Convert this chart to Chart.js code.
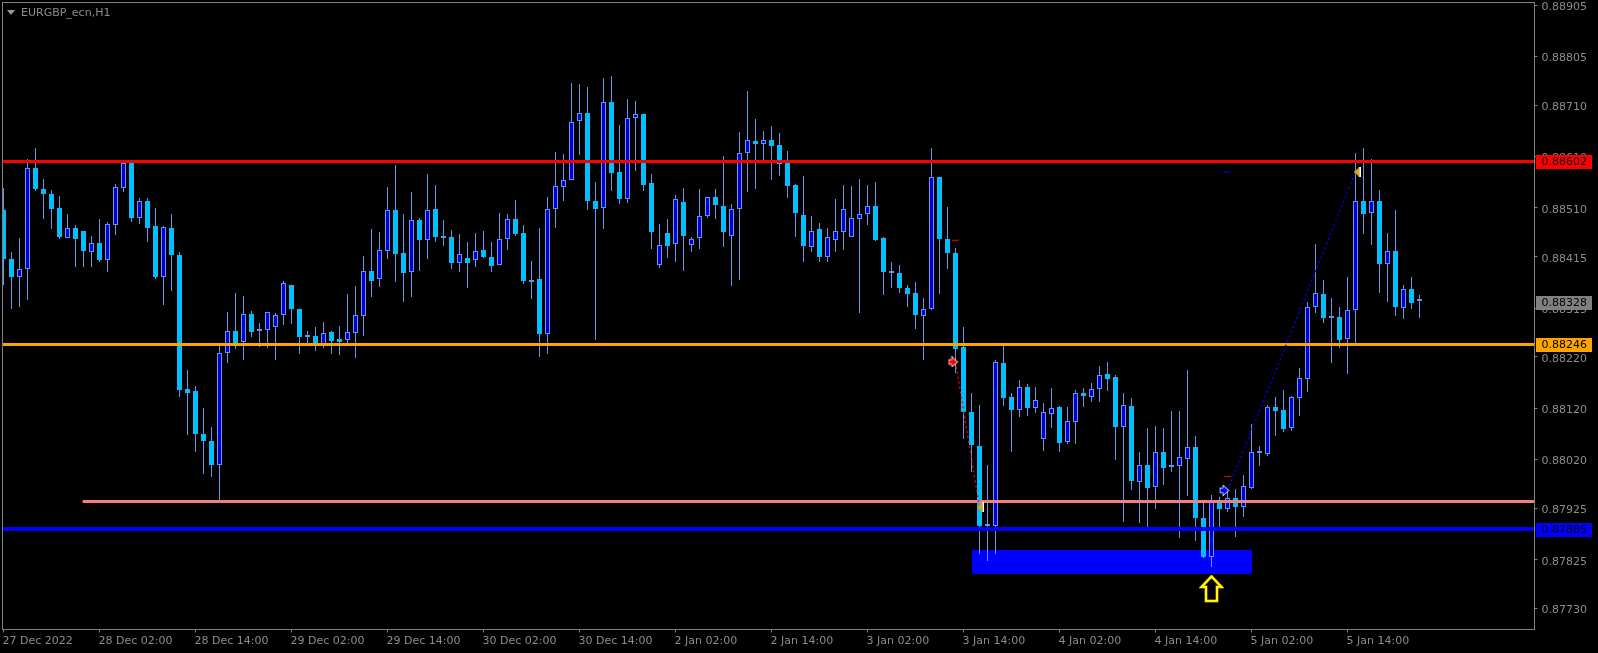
<!DOCTYPE html>
<html>
<head>
<meta charset="utf-8">
<title>EURGBP_ecn,H1</title>
<script src="https://cdn.jsdelivr.net/npm/chart.js@4/dist/chart.umd.min.js"></script>
<style>
  html, body { margin: 0; padding: 0; background: #000; overflow: hidden; }
  canvas { display: block; }
</style>
</head>
<body>
<canvas id="chart" width="1598" height="653"></canvas>
<script>
// all prices are in points (1 = 0.00001)
const highs = [
  88548,88424,88451,88606,88626,88566,88544,88533,88499,88476,
  88466,88455,88488,88482,88556,88602,88601,88529,88529,88509,
  88474,88498,88425,88194,88164,88120,88083,88241,88307,88344,
  88338,88310,88285,88308,88305,88367,88359,88314,88270,88278,
  88288,88271,88280,88343,88358,88416,88469,88464,88551,88593,
  88499,88541,88490,88576,88554,88486,88467,88459,88443,88461,
  88465,88443,88501,88498,88525,88477,88406,88471,88531,88618,
  88615,88753,88751,88745,88560,88763,88767,88671,88722,88718,
  88692,88576,88479,88488,88535,88549,88453,88546,88532,88546,
  88611,88517,88658,88737,88683,88660,88669,88656,88621,88556,
  88572,88494,88480,88470,88527,88554,88552,88566,88554,88560,
  88454,88404,88399,88360,88366,88334,88626,88571,88512,88432,
  88278,88149,88127,88010,88214,88241,88149,88175,88168,88162,
  88130,88159,88125,88122,88155,88160,88170,88202,88209,88184,
  88149,88139,88034,88081,88085,88081,88114,88114,88194,88066,
  87936,87951,87948,87962,87962,87990,88089,88046,88127,88142,
  88155,88144,88199,88326,88439,88370,88334,88317,88375,88617,
  88626,88606,88545,88462,88505,88359,88375,88340
];
const lows = [
  88360,88313,88318,88331,88543,88489,88468,88450,88452,88395,
  88394,88394,88405,88386,88458,88540,88483,88479,88444,88372,
  88320,88349,88142,88068,88035,87992,87986,87939,88207,88236,
  88214,88259,88240,88238,88214,88282,88284,88226,88245,88232,
  88238,88226,88224,88243,88218,88261,88337,88356,88411,88366,
  88327,88337,88388,88411,88444,88436,88392,88386,88354,88395,
  88413,88386,88398,88428,88456,88362,88333,88220,88226,88471,
  88524,88564,88613,88506,88253,88469,88543,88518,88520,88582,
  88543,88430,88393,88413,88405,88388,88425,88430,88491,88489,
  88434,88358,88370,88541,88547,88600,88565,88573,88530,88454,
  88405,88425,88405,88405,88425,88429,88454,88306,88477,88446,
  88341,88354,88345,88317,88275,88214,88312,88343,88392,88189,
  88060,87996,87836,87823,87836,88125,88035,88103,88105,88111,
  88037,88082,88035,88051,88051,88123,88133,88133,88154,88020,
  87899,87961,87897,87889,87924,87971,87996,87868,87949,87862,
  87829,87811,87886,87918,87869,87909,87963,88008,88027,88066,
  88073,88076,88105,88152,88306,88286,88207,88238,88187,88244,
  88459,88438,88345,88327,88300,88294,88314,88296
];
const opens = [
  88506,88410,88376,88392,88587,88546,88538,88509,88452,88470,
  88466,88425,88441,88409,88477,88549,88597,88491,88523,88474,
  88376,88470,88418,88157,88153,88069,88057,88010,88227,88270,
  88248,88303,88271,88273,88279,88302,88359,88314,88262,88260,
  88243,88268,88254,88253,88267,88300,88388,88371,88427,88505,
  88423,88386,88486,88448,88507,88455,88454,88403,88412,88408,
  88429,88415,88398,88449,88488,88462,88369,88371,88264,88507,
  88551,88564,88680,88694,88523,88509,88717,88579,88527,88686,
  88692,88558,88398,88462,88439,88521,88437,88451,88495,88532,
  88513,88456,88507,88617,88641,88634,88643,88632,88597,88554,
  88497,88434,88468,88415,88448,88464,88454,88489,88499,88513,
  88451,88386,88384,88355,88345,88300,88314,88571,88449,88423,
  88239,88112,88047,87893,87891,88207,88141,88117,88162,88121,
  88060,88109,88123,88055,88094,88149,88142,88158,88186,88180,
  88084,88125,87977,88009,87967,88034,88007,88008,88021,88044,
  87907,87831,87938,87924,87946,87928,87965,88035,88031,88122,
  88116,88082,88140,88177,88318,88342,88297,88297,88255,88312,
  88523,88501,88523,88401,88427,88316,88353,88330
];
const closes = [
  88411,88376,88392,88587,88547,88538,88508,88454,88470,88450,
  88427,88441,88409,88478,88550,88597,88491,88523,88471,88376,
  88472,88419,88156,88150,88070,88057,88010,88227,88270,88246,
  88303,88269,88275,88308,88301,88363,88314,88259,88258,88243,
  88266,88251,88249,88268,88301,88388,88368,88429,88505,88421,
  88384,88486,88448,88505,88454,88452,88403,88421,88403,88427,
  88415,88397,88449,88488,88460,88368,88366,88265,88507,88553,
  88564,88678,88694,88524,88508,88717,88578,88528,88686,88692,
  88555,88464,88437,88436,88528,88456,88449,88495,88532,88516,
  88464,88507,88616,88643,88635,88643,88631,88596,88553,88501,
  88436,88466,88415,88454,88466,88507,88490,88499,88513,88447,
  88386,88384,88354,88343,88302,88314,88571,88450,88423,88236,
  88113,88048,87891,87890,88209,88140,88117,88162,88121,88135,
  88112,88121,88053,88096,88149,88144,88158,88184,88177,88084,
  88127,87979,88009,87965,88034,88004,88005,88024,88044,87907,
  87831,87938,87924,87946,87928,87968,88034,88033,88122,88115,
  88080,88141,88178,88318,88344,88296,88296,88253,88312,88523,
  88499,88523,88401,88427,88318,88353,88325,88328
];

const timeLabels = [
  '27 Dec 2022', '28 Dec 02:00', '28 Dec 14:00', '29 Dec 02:00', '29 Dec 14:00',
  '30 Dec 02:00', '30 Dec 14:00', '2 Jan 02:00', '2 Jan 14:00', '3 Jan 02:00',
  '3 Jan 14:00', '4 Jan 02:00', '4 Jan 14:00', '5 Jan 02:00', '5 Jan 14:00'
];
const barsPerLabel = 12;
const priceTicks = [88905, 88805, 88710, 88610, 88510, 88415, 88315, 88220, 88120, 88020, 87925, 87825, 87730];

// horizontal levels
const redLevel = 88602;
const orangeLevel = 88246;
const pinkLevel = 87940;
const blueLevel = 87885;
const pinkStartBar = 9.9;

// blue zone under the candles
const zoneBars = [121, 156];
const zonePrices = [87844, 87798];

// trades: [bar, price]
const sellLine = [[119, 88210], [122, 87927]];
const buyLine = [[153, 87960], [169, 88580]];
const stopMarks = [[119, 88447], [153, 87987]];
const targetMarks = [[153, 88580]];
const sellEntry = [[118.7, 88210]];
const buyEntry = [[152.6, 87960]];
const exits = [[122.1, 87927], [169.2, 88580]];
const upArrow = [[151, 87768]];

const WICK = '#6495ED';
const BULL = '#0000DD';
const BEAR = '#00BFFF';
const TEXT = '#8c8c8c';
const FONT = '11px "DejaVu Sans"';

const toPoints = list => list.map(p => ({ x: p[0], y: p[1] }));
const formatPrice = p => (p / 100000).toFixed(5);
const isDoji = i => Math.abs(opens[i] - closes[i]) <= 4;

function bodyColor(i) {
  if (isDoji(i)) return WICK;
  return closes[i] > opens[i] ? BULL : BEAR;
}

function makeIcon(w, h, draw) {
  const c = document.createElement('canvas');
  c.width = w;
  c.height = h;
  draw(c.getContext('2d'));
  return c;
}

function arrowIcon(fill) {
  return makeIcon(11, 11, ctx => {
    ctx.beginPath();
    ctx.moveTo(1.5, 3.5);
    ctx.lineTo(4.5, 3.5);
    ctx.lineTo(4.5, 1);
    ctx.lineTo(9.5, 5.5);
    ctx.lineTo(4.5, 10);
    ctx.lineTo(4.5, 7.5);
    ctx.lineTo(1.5, 7.5);
    ctx.closePath();
    ctx.fillStyle = fill;
    ctx.strokeStyle = '#fff';
    ctx.lineWidth = 1.4;
    ctx.stroke();
    ctx.fill();
  });
}

const exitIcon = makeIcon(7, 10, ctx => {
  ctx.fillStyle = '#fff';
  ctx.fillRect(5, 0, 2, 10);
  ctx.beginPath();
  ctx.moveTo(6, 0);
  ctx.lineTo(0, 5);
  ctx.lineTo(6, 10);
  ctx.closePath();
  ctx.fillStyle = '#DAA520';
  ctx.fill();
});

const bigArrowIcon = makeIcon(25, 28, ctx => {
  ctx.beginPath();
  ctx.moveTo(12.5, 1.5);
  ctx.lineTo(22.5, 12);
  ctx.lineTo(18, 12);
  ctx.lineTo(18, 26);
  ctx.lineTo(7, 26);
  ctx.lineTo(7, 12);
  ctx.lineTo(2.5, 12);
  ctx.closePath();
  ctx.strokeStyle = '#B8860B';
  ctx.lineWidth = 3;
  ctx.stroke();
  ctx.strokeStyle = '#FFFF00';
  ctx.lineWidth = 2;
  ctx.stroke();
});

function levelDataset(value, color, width, from) {
  return {
    type: 'line',
    data: [{ x: from, y: value }, { x: 191.375, y: value }],
    borderColor: color,
    borderWidth: width,
    pointRadius: 0,
    snapLine: true,
    order: 3
  };
}

function dottedDataset(list, color) {
  return {
    type: 'line',
    data: toPoints(list),
    borderColor: color,
    borderWidth: 1.4,
    borderDash: [2, 3],
    pointRadius: 0,
    order: 2
  };
}

function markDataset(list, style, radius, color) {
  return {
    type: 'scatter',
    data: toPoints(list),
    pointStyle: style,
    pointRadius: radius,
    borderColor: color || 'transparent',
    backgroundColor: color || 'transparent',
    pointBorderWidth: 1,
    order: 1
  };
}

// keep bars and level lines on whole pixels
const snapPlugin = {
  id: 'snap',
  afterDatasetsUpdate(chart) {
    chart.data.datasets.forEach((ds, idx) => {
      const meta = chart.getDatasetMeta(idx);
      if (ds.type === 'bar') {
        meta.data.forEach(b => {
          b.y = Math.round(b.y);
          b.base = Math.round(b.base);
        });
      } else if (ds.snapLine) {
        const half = ds.borderWidth % 2 ? 0.5 : 0;
        meta.data.forEach(p => { p.y = Math.ceil(p.y) + half; });
      }
    });
  }
};

const zonePlugin = {
  id: 'zone',
  beforeDatasetsDraw(chart) {
    const { ctx, scales: { x, y } } = chart;
    const left = Math.round(x.getPixelForValue(zoneBars[0]));
    const right = Math.round(x.getPixelForValue(zoneBars[1]));
    const top = Math.round(y.getPixelForValue(zonePrices[0]));
    const bottom = Math.round(y.getPixelForValue(zonePrices[1]));
    ctx.save();
    ctx.fillStyle = '#0000FF';
    ctx.fillRect(left, top, right - left, bottom - top);
    ctx.restore();
  }
};

const framePlugin = {
  id: 'frame',
  afterDraw(chart) {
    const { ctx, chartArea: a, scales: { y } } = chart;
    ctx.save();
    ctx.strokeStyle = '#808080';
    ctx.lineWidth = 1;
    ctx.strokeRect(a.left, a.top, a.right - a.left, a.bottom - a.top);

    // price tags on the axis
    const tags = [
      [redLevel, '#FF0000'],
      [orangeLevel, '#FFA500'],
      [blueLevel, '#0000FF'],
      [closes[closes.length - 1], '#808080']
    ];
    ctx.font = FONT;
    ctx.textBaseline = 'middle';
    tags.forEach(([value, color]) => {
      const py = Math.ceil(y.getPixelForValue(value));
      ctx.fillStyle = color;
      ctx.fillRect(a.right + 1.5, py - 6, 56, 14);
      ctx.fillStyle = '#000';
      ctx.fillText(formatPrice(value), a.right + 7, py + 1);
    });

    // symbol title
    ctx.fillStyle = '#9a9a9a';
    ctx.beginPath();
    ctx.moveTo(7, 10);
    ctx.lineTo(15, 10);
    ctx.lineTo(11, 15);
    ctx.closePath();
    ctx.fill();
    ctx.fillStyle = TEXT;
    ctx.fillText('EURGBP_ecn,H1', 21, 13);
    ctx.restore();
  }
};

// the layout must not reserve room for labels that overhang the plot
function pinScale(scale, size) {
  if (scale.isHorizontal()) scale.height = size;
  else scale.width = size;
  scale.paddingLeft = 0;
  scale.paddingRight = 0;
  scale.paddingTop = 0;
  scale.paddingBottom = 0;
}

const indexes = highs.map((_, i) => i);

new Chart(document.getElementById('chart'), {
  data: {
    datasets: [
      {
        type: 'bar',
        data: indexes.map(i => ({ x: i, y: [lows[i], highs[i]] })),
        backgroundColor: WICK,
        barThickness: 1,
        inflateAmount: 0,
        order: 6
      },
      {
        type: 'bar',
        data: indexes.map(i => ({ x: i, y: [opens[i], closes[i]] })),
        backgroundColor: indexes.map(bodyColor),
        borderColor: indexes.map(i => (closes[i] > opens[i] || isDoji(i) ? WICK : BEAR)),
        borderWidth: 1,
        borderSkipped: false,
        barThickness: 5,
        minBarLength: 2,
        inflateAmount: 0,
        order: 5
      },
      levelDataset(redLevel, '#FF0000', 3, -0.125),
      levelDataset(orangeLevel, '#FFA500', 3, -0.125),
      levelDataset(pinkLevel, '#F08080', 3, pinkStartBar),
      levelDataset(blueLevel, '#0000FF', 4, -0.125),
      dottedDataset(sellLine, '#FF0000'),
      dottedDataset(buyLine, '#0000FF'),
      markDataset(stopMarks, 'line', 3.5, '#FF0000'),
      markDataset(targetMarks, 'line', 3.5, '#0000FF'),
      markDataset(sellEntry, arrowIcon('#FF0000'), 5),
      markDataset(buyEntry, arrowIcon('#0000FF'), 5),
      markDataset(exits, exitIcon, 5),
      markDataset(upArrow, bigArrowIcon, 12)
    ]
  },
  options: {
    responsive: false,
    animation: false,
    events: [],
    layout: { autoPadding: false, padding: { left: 2.5, top: 2.5, right: 0, bottom: 0 } },
    plugins: { legend: { display: false }, tooltip: { enabled: false } },
    datasets: { bar: { grouped: false } },
    scales: {
      x: {
        type: 'linear',
        offset: false,
        min: -0.125,
        max: 191.375,
        afterBuildTicks: scale => {
          scale.ticks = timeLabels.map((_, n) => ({ value: n * barsPerLabel }));
        },
        afterFit: scale => pinScale(scale, 23.5),
        grid: { offset: false, drawOnChartArea: false, drawTicks: true, tickLength: 3, color: '#808080' },
        border: { display: false },
        ticks: {
          autoSkip: false,
          maxRotation: 0,
          align: 'start',
          labelOffset: -1,
          padding: 2,
          color: TEXT,
          font: { family: '"DejaVu Sans"', size: 11 },
          callback: value => timeLabels[value / barsPerLabel]
        }
      },
      y: {
        type: 'linear',
        position: 'right',
        min: 87689,
        max: 88910,
        afterBuildTicks: scale => {
          scale.ticks = priceTicks.map(value => ({ value }));
        },
        afterFit: scale => pinScale(scale, 63.5),
        grid: { drawOnChartArea: false, drawTicks: true, tickLength: 3, color: '#808080' },
        border: { display: false },
        ticks: {
          autoSkip: false,
          padding: 4,
          labelOffset: 2,
          color: TEXT,
          font: { family: '"DejaVu Sans"', size: 11 },
          callback: value => formatPrice(value)
        }
      }
    }
  },
  plugins: [snapPlugin, zonePlugin, framePlugin]
});
</script>
</body>
</html>
